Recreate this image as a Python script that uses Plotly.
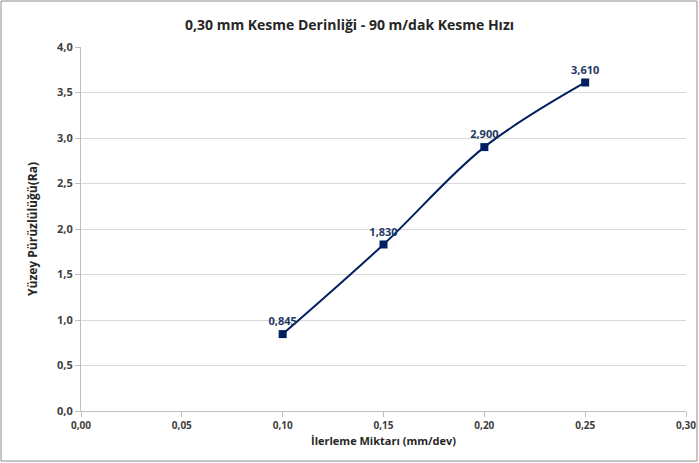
import plotly.graph_objects as go

feed = [0.10, 0.15, 0.20, 0.25]
roughness = [0.845, 1.830, 2.900, 3.610]

title_text = "0,30 mm Kesme Derinliği - 90 m/dak Kesme Hızı"
x_title = "İlerleme Miktarı (mm/dev)"
y_title = "Yüzey Pürüzlülüğü(Ra)"

W, H = 699, 463
ml, mr, mt, mb = 81, 13, 47, 52
pw, ph = W - ml - mr, H - mt - mb

font_family = "'Open Sans', sans-serif"
navy = "#002060"

fig = go.Figure()
fig.add_trace(go.Scatter(
    x=feed, y=roughness,
    mode="lines+markers+text",
    line=dict(color=navy, width=2, shape="spline", smoothing=1.0),
    marker=dict(symbol="square", size=8, color=navy),
    texttemplate="%{y:.3f}",
    textposition="top center",
    textfont=dict(family=font_family, size=11, color="#1F3864", weight="bold"),
    showlegend=False,
    cliponaxis=False,
))

axis_common = dict(
    showline=True, linecolor="#BFBFBF", linewidth=1,
    ticks="outside", tickcolor="#BFBFBF", ticklen=5,
    zeroline=False, automargin=False,
)

fig.update_layout(
    width=W, height=H,
    margin=dict(l=ml, r=mr, t=mt, b=mb, autoexpand=False),
    paper_bgcolor="white", plot_bgcolor="white",
    separators=",.",
    title=dict(text=title_text, x=0.5, xanchor="center", y=1 - 25 / H, yanchor="middle",
               automargin=False,
               font=dict(family=font_family, size=14, color="#262626", weight="bold")),
    xaxis=dict(range=[0, 0.30], dtick=0.05, tickformat=".2f", showgrid=False,
               tickfont=dict(family=font_family, size=10, color="#404040", weight="bold"),
               title=dict(text=x_title, standoff=6,
                          font=dict(family=font_family, size=11, color="#262626", weight="bold")),
               **axis_common),
    yaxis=dict(range=[0, 4.0], dtick=0.5, tickformat=".1f", showgrid=True,
               gridcolor="#D9D9D9", gridwidth=1,
               tickfont=dict(family=font_family, size=11, color="#404040", weight="bold"),
               title=dict(text=y_title, standoff=16,
                          font=dict(family=font_family, size=12, color="#262626", weight="bold")),
               **axis_common),
    shapes=[dict(type="rect", xref="paper", yref="paper",
                 x0=(1 - ml) / pw, x1=(W - 2 - ml) / pw,
                 y0=-(H - 2 - mt - ph) / ph, y1=(mt - 1) / ph + 1,
                 line=dict(color="#8C8C8C", width=1), fillcolor="rgba(0,0,0,0)",
                 layer="below")],
)

fig.write_html("out.html", config={"displayModeBar": False},
               post_script="document.body.style.margin='0';")
